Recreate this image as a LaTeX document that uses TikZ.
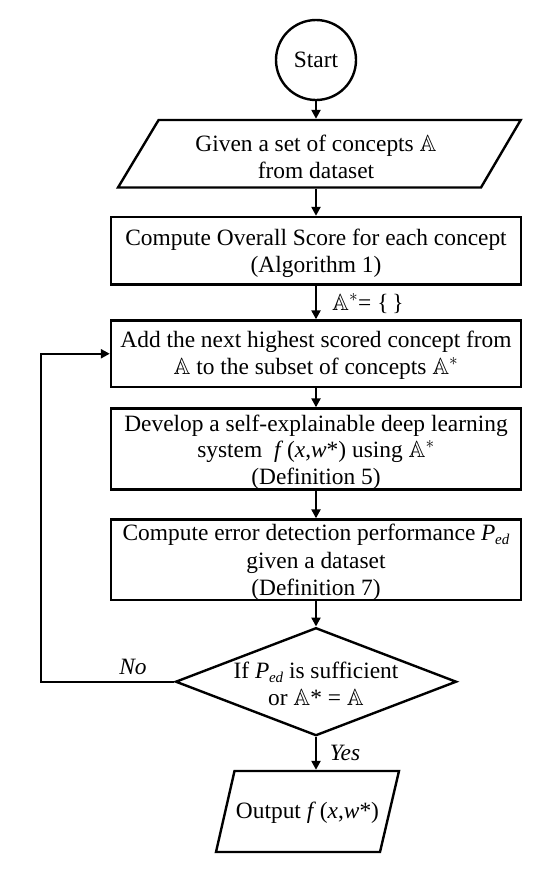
\documentclass[tikz,border=0pt]{standalone}
\usepackage{fontspec}
\setmainfont{Liberation Serif}
\usepackage{amssymb}
\usetikzlibrary{shapes.geometric,arrows.meta}
\newcommand\bbA{\ensuremath{\mathbb{A}}}
\newcommand\Ped{\textit{P}\kern-0.3pt\raisebox{-4pt}{\fontsize{15}{15}\selectfont\itshape ed}}
\begin{document}
\begin{tikzpicture}[x=1pt,y=-1pt, line width=2.4pt, line join=miter,
  every node/.style={font=\fontsize{23.4}{27}\selectfont},
  box/.style={draw, rectangle, minimum width=410pt, inner sep=0pt},
  anch/.style={rectangle, inner sep=0pt},
  txt/.style={align=center, inner sep=0pt},
  lbl/.style={inner sep=0pt},
  arr/.style={-{Triangle[length=9pt,width=9pt]}, line width=2.4pt}]
\useasboundingbox (0,0) rectangle (539,871);
% shapes
\node[draw, circle, minimum size=80pt, inner sep=0pt] (start) at (316,60) {Start};
\node[anch, minimum width=320pt, minimum height=67.5pt] (given) at (316,153.75) {};
\draw (158.6,120) -- (520.7,120) -- (481,187.5) -- (118,187.5) -- cycle;
\node[box, minimum height=67.5pt] (b1) at (316,250.75) {};
\node[box, minimum height=66.5pt] (b2) at (316,353.75) {};
\node[box, minimum height=81pt] (b3) at (316,449) {};
\node[box, minimum height=80.5pt] (b4) at (316,559.75) {};
\node[draw, diamond, minimum width=281pt, minimum height=108pt, inner sep=2pt] (dia) at (316,681.7) {};
\node[anch, minimum width=140pt, minimum height=81pt] (out) at (316,811.5) {};
\draw (234.5,771) -- (399,771) -- (380,852) -- (216,852) -- cycle;
% texts
\node[txt] (t0) at (316,156.7) {Given a set of concepts \bbA\\from dataset};
\node[txt] (t1) at (316,253.5) {Compute Overall Score for each concept\\(Algorithm 1)};
\node[txt] (t2) at (316,355.3) {Add the next highest scored concept from\\\bbA\ to the subset of concepts \bbA$^*$};
\node[txt, font=\fontsize{23.4}{26.5}\selectfont] (t3) at (316,452) {Develop a self-explainable deep learning\\system \ \textit{f}\,(\textit{x},\textit{w}*) using \bbA$^*$\\(Definition 5)};
\node[txt, font=\fontsize{23.4}{27.5}\selectfont] (t4) at (316,562.5) {Compute error detection performance \Ped\\given a dataset\\(Definition 7)};
\node[txt] (t5) at (316,684) {If \Ped\ is sufficient\\or \bbA* = \bbA};
\node[txt] (t6) at (307.5,813) {Output \textit{f}\,(\textit{x},\textit{w}*)};
% labels
\node[lbl, anchor=west] (lab) at (331,304) {\bbA$^*$= \{\,\}};
\node[lbl] (no) at (133,667) {\textit{No}};
\node[lbl] (yes) at (345,753) {\textit{Yes}};
% connectors
\draw[arr] (start) -- (given);
\draw[arr] (given) -- (b1);
\draw[arr] (b1) -- (b2);
\draw[arr] (b2) -- (b3);
\draw[arr] (b3) -- (b4);
\draw[arr] (b4) -- (dia);
\draw[arr] (dia) -- (out);
\coordinate (lp) at (41,681.7);
\draw[arr] (dia.west) -- (lp) |- (b2.west);
\end{tikzpicture}
\end{document}
